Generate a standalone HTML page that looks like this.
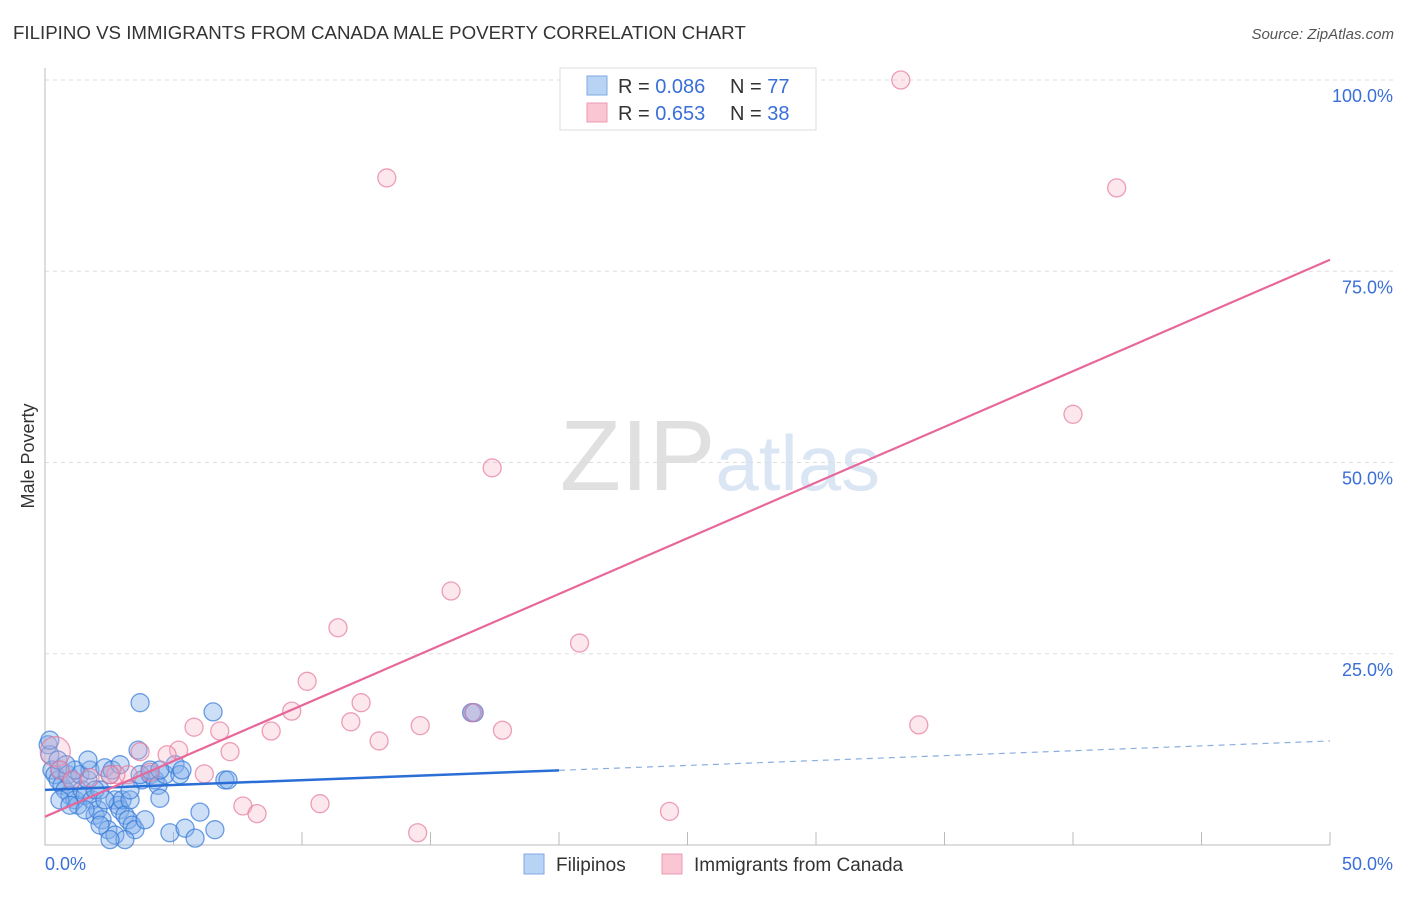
<!DOCTYPE html>
<html><head><meta charset="utf-8"><style>
body{margin:0;background:#fff;font-family:"Liberation Sans",sans-serif;}
svg text{font-family:"Liberation Sans",sans-serif;}
</style></head><body>
<svg id="chart" width="1406" height="892" xmlns="http://www.w3.org/2000/svg">
<text x="13" y="39" font-size="18.7" fill="#333">FILIPINO VS IMMIGRANTS FROM CANADA MALE POVERTY CORRELATION CHART</text>
<text x="1394" y="39" font-size="15" fill="#555" font-style="italic" text-anchor="end">Source: ZipAtlas.com</text>
<text x="720" y="490" font-size="100" text-anchor="middle" fill="#ddd" font-family="Liberation Serif"><tspan fill="#e0e0e0">ZIP</tspan><tspan fill="#dbe6f5" font-family="Liberation Sans" font-size="78">atlas</tspan></text>
<g id="grid"></g>
<g id="axes"></g>
<g id="pts"></g>
<g id="lines"></g>
<text transform="translate(34,456) rotate(-90)" font-size="18" fill="#333" text-anchor="middle">Male Poverty</text>
<g>
<rect x="560" y="68" width="256" height="62" fill="#fff" stroke="#ddd"/>
<rect x="587" y="76" width="20" height="19" fill="#b9d3f5" stroke="#7fa8e0"/>
<rect x="587" y="103" width="20" height="19" fill="#fac6d4" stroke="#ee9ab2"/>
<text x="618" y="93" font-size="20" fill="#333">R = <tspan fill="#3a6fd8">0.086</tspan></text>
<text x="730" y="93" font-size="20" fill="#333">N = <tspan fill="#3a6fd8">77</tspan></text>
<text x="618" y="120" font-size="20" fill="#333">R = <tspan fill="#3a6fd8"> 0.653</tspan></text>
<text x="730" y="120" font-size="20" fill="#333">N = <tspan fill="#3a6fd8">38</tspan></text>
</g>
<g>
<rect x="524" y="854" width="20" height="20" fill="#b9d3f5" stroke="#7fa8e0"/>
<text x="556" y="871" font-size="19" fill="#333">Filipinos</text>
<rect x="662" y="854" width="20" height="20" fill="#fac6d4" stroke="#ee9ab2"/>
<text x="694" y="871" font-size="19" fill="#333">Immigrants from Canada</text>
</g>
</svg>
<script>
const blueX=[0.12,0.19,0.27,0.39,0.51,0.58,0.66,0.78,0.89,0.97,1.05,1.17,1.28,1.36,1.44,1.56,1.67,1.75,1.83,1.95,2.06,2.14,2.22,2.33,2.45,2.53,2.61,2.72,2.84,2.92,3.0,3.11,3.23,3.31,3.39,3.5,3.62,3.70,3.77,3.89,4.09,4.28,4.40,4.47,4.67,4.86,5.06,5.25,5.45,5.84,6.03,6.54,6.61,7.0,7.12,16.6,16.7,0.58,0.97,1.56,2.14,2.72,3.11,1.95,2.33,1.17,0.19,0.51,0.82,2.92,3.31,3.7,4.09,4.47,5.33,1.67,2.53];
const blueY=[13.1,11.8,9.8,9.2,8.5,9.8,7.8,7.2,9.2,6.5,8.5,5.9,5.2,9.2,7.2,6.5,8.5,9.8,5.9,3.9,4.6,7.2,3.3,10.1,2.0,9.2,9.8,5.9,5.2,4.6,5.9,3.9,3.3,5.9,2.6,2.0,12.4,18.6,8.5,3.3,9.2,8.5,7.8,6.1,9.2,1.6,10.5,9.2,2.2,0.9,4.3,17.4,2.0,8.5,8.5,17.3,17.3,5.9,5.2,4.6,2.6,1.3,0.7,7.2,5.9,9.8,13.7,11.1,10.5,10.5,7.2,9.2,9.8,9.8,9.8,11.1,0.7];
const pinkX=[33.3,13.3,41.7,40.0,17.4,15.8,11.4,20.8,10.2,12.3,9.6,5.8,6.8,8.8,14.6,11.9,17.8,34.0,13.0,7.2,5.2,4.75,3.7,3.23,2.76,6.2,7.7,8.25,10.7,14.5,24.3,16.65,0.4,0.58,1.75,1.05,2.53,4.09];
const pinkY=[100,87.2,85.9,56.3,49.3,33.2,28.4,26.4,21.4,18.6,17.5,15.4,14.9,14.9,15.6,16.1,15.0,15.7,13.6,12.2,12.4,11.8,12.2,9.2,9.2,9.3,5.1,4.1,5.4,1.6,4.4,17.3,12.2,9.8,8.8,8.5,9.2,9.5];
const yTicks=[25,50,75,100];
const yTickLabels=["25.0%","50.0%","75.0%","100.0%"];
const blueTrend=[7.2,13.6];
const pinkTrend=[3.7,76.5];
const NS="http://www.w3.org/2000/svg";
const sx=v=>45+v*25.7, sy=v=>845-v*7.65;
function mk(tag,attrs,parent){const e=document.createElementNS(NS,tag);for(const k in attrs)e.setAttribute(k,attrs[k]);parent.appendChild(e);return e;}
const grid=document.getElementById('grid'),axes=document.getElementById('axes'),pts=document.getElementById('pts'),lines=document.getElementById('lines');
yTicks.forEach((t,i)=>{
 const l=mk('line',{x1:45,x2:1393,y1:sy(t),y2:sy(t),stroke:'#ddd','stroke-dasharray':'4,4'},grid);
 
 
 const tx=mk('text',{x:1393,y:sy(t)+22,'font-size':18,fill:'#3a6fd8','text-anchor':'end'},axes);
 tx.textContent=yTickLabels[i];
 
 
});
const ax=mk('path',{d:'M45 68V845H1330',stroke:'#bbb',fill:'none'},axes);


for(let i=1;i<=10;i++){const t=mk('line',{x1:sx(i*5),x2:sx(i*5),y1:832,y2:845,stroke:'#bbb'},axes);
 
 }
const x0=mk('text',{x:45,y:870,'font-size':18,fill:'#3a6fd8'},axes);x0.textContent='0.0%';


const x1=mk('text',{x:1393,y:870,'font-size':18,fill:'#3a6fd8','text-anchor':'end'},axes);x1.textContent='50.0%';


blueX.forEach((v,i)=>{const c=mk('circle',{cx:sx(v),cy:sy(blueY[i]),r:9,fill:'rgba(130,175,235,0.4)',stroke:'rgba(50,120,215,0.7)','stroke-width':1.3},pts);
 
 });
pinkX.forEach((v,i)=>{const c=mk('circle',{cx:sx(v),cy:sy(pinkY[i]),r:i==32?15:9,fill:'rgba(245,175,195,0.3)',stroke:'rgba(230,120,155,0.7)','stroke-width':1.3},pts);
 
 });
const bAt=x=>blueTrend[0]+(blueTrend[1]-blueTrend[0])*x/50;
const b1=mk('line',{x1:sx(0),y1:sy(bAt(0)),x2:sx(20),y2:sy(bAt(20)),stroke:'#2a6fd6','stroke-width':2.5},lines);


const b2=mk('line',{x1:sx(20),y1:sy(bAt(20)),x2:sx(50),y2:sy(bAt(50)),stroke:'#8aaede','stroke-width':1.2,'stroke-dasharray':'6,5'},lines);


const p1=mk('line',{x1:sx(0),y1:sy(pinkTrend[0]),x2:sx(50),y2:sy(pinkTrend[1]),stroke:'#e8679a','stroke-width':2.2},lines);


</script>
</body></html>
